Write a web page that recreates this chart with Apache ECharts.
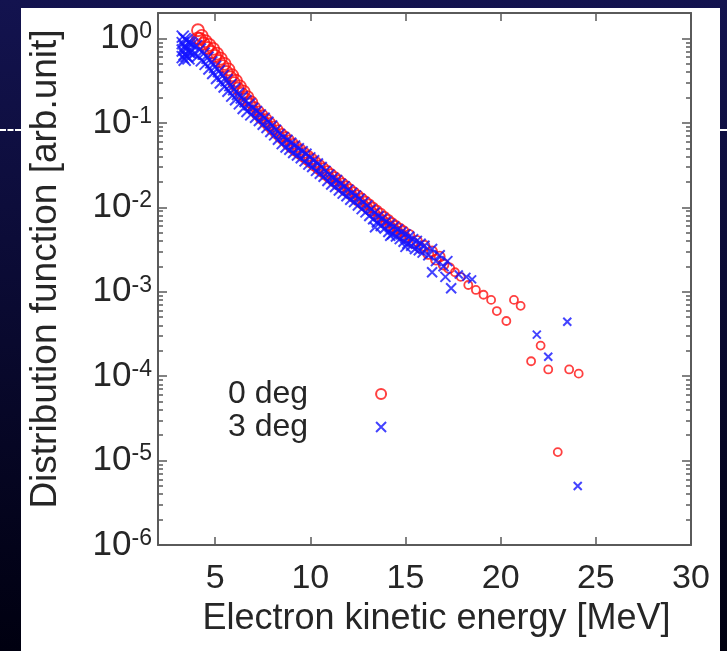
<!DOCTYPE html>
<html>
<head>
<meta charset="utf-8">
<script src="https://cdn.jsdelivr.net/npm/echarts@6/dist/echarts.min.js"></script>
<style>
html, body { margin: 0; padding: 0; width: 727px; height: 651px; overflow: hidden; background: linear-gradient(#13134f, #000010); }
#panel { position: absolute; left: 21px; top: 8px; width: 699px; height: 643px; background: #fff; }
.dash { position: absolute; top: 129px; height: 0; border-top: 2px dashed #fff; }
#chart { position: absolute; left: 0; top: 0; width: 727px; height: 651px; }
</style>
</head>
<body>
<div id="panel"></div>
<div class="dash" style="left:0;width:21px"></div>
<div class="dash" style="left:720px;width:7px"></div>
<div id="chart"></div>
<script>
// 0 deg (red circles)
var energy0 = [4.1, 4.1, 4.2, 4.3, 4.4, 4.5, 4.6, 4.7, 4.8, 4.9,
    5.0, 5.1, 5.2, 5.3, 5.4, 5.5, 5.6, 5.7, 5.8, 5.9,
    6.0, 6.1, 6.2, 6.3, 6.4, 6.5, 6.6, 6.7, 6.8, 6.9,
    7.0, 7.1, 7.2, 7.3, 7.4, 7.5, 7.6, 7.7, 7.8, 7.9,
    8.0, 8.1, 8.2, 8.3, 8.4, 8.5, 8.6, 8.7, 8.8, 8.9,
    9.0, 9.1, 9.2, 9.3, 9.4, 9.5, 9.6, 9.7, 9.8, 9.9,
    10.0, 10.1, 10.2, 10.3, 10.4, 10.5, 10.6, 10.7, 10.8, 10.9,
    11.0, 11.1, 11.2, 11.3, 11.4, 11.5, 11.6, 11.7, 11.8, 11.9,
    12.0, 12.1, 12.2, 12.3, 12.4, 12.5, 12.6, 12.7, 12.8, 12.9,
    13.0, 13.1, 13.2, 13.3, 13.4, 13.5, 13.6, 13.7, 13.8, 13.9,
    14.0, 14.1, 14.2, 14.3, 14.4, 14.5, 14.6, 14.7, 14.8, 14.9,
    15.0, 15.2, 15.4, 15.6, 15.8, 16.0, 16.2, 16.4, 16.6, 16.8,
    17.0, 17.3, 17.6, 17.9, 18.3, 18.7, 19.1, 19.5, 19.8, 20.3,
    20.7, 21.05, 21.6, 22.1, 22.5, 23.0, 23.6, 24.1];
var dist0 = [1.25, 1.0, 0.99, 1.07, 0.87, 0.93, 0.77, 0.84, 0.69, 0.75,
    0.62, 0.66, 0.54, 0.575, 0.47, 0.50, 0.40, 0.43, 0.345, 0.366,
    0.295, 0.315, 0.255, 0.27, 0.22, 0.234, 0.19, 0.202, 0.164, 0.175,
    0.141, 0.153, 0.126, 0.137, 0.113, 0.123, 0.102, 0.111, 0.092, 0.100,
    0.083, 0.091, 0.075, 0.082, 0.068, 0.074, 0.062, 0.068, 0.056, 0.062,
    0.051, 0.0565, 0.047, 0.052, 0.0435, 0.048, 0.040, 0.044, 0.037, 0.0405,
    0.034, 0.0373, 0.0312, 0.0343, 0.0287, 0.0316, 0.0264, 0.0291, 0.0243, 0.0268,
    0.0224, 0.0247, 0.0206, 0.0227, 0.019, 0.0209, 0.0175, 0.0192, 0.0161, 0.0177,
    0.0148, 0.0163, 0.0136, 0.015, 0.0125, 0.0138, 0.0115, 0.0127, 0.0106, 0.0117,
    0.0098, 0.0108, 0.009, 0.0099, 0.0083, 0.0091, 0.0076, 0.0084, 0.007, 0.0077,
    0.0065, 0.0071, 0.0059, 0.0065, 0.0055, 0.006, 0.0051, 0.0056, 0.0047, 0.0052,
    0.0044, 0.0047, 0.0038, 0.004, 0.0033, 0.0035, 0.0028, 0.003, 0.0024, 0.0026,
    0.0021, 0.0019, 0.0017, 0.0015, 0.0012, 0.00105, 0.00092, 0.0008, 0.00059, 0.00045,
    0.0008, 0.00068, 0.00015, 0.00023, 0.00012, 0.0000126, 0.00012, 0.000107];

// 3 deg (blue crosses)
var energy3 = [3.3, 3.3, 3.3, 3.3, 3.4, 3.4, 3.4, 3.4, 3.5, 3.5, 3.5, 3.6, 3.6, 3.6, 3.7, 3.7,
    3.8, 3.9, 4.0, 4.1, 4.2, 4.3, 4.4, 4.5, 4.6, 4.7, 4.8, 4.9,
    5.0, 5.1, 5.2, 5.3, 5.4, 5.5, 5.6, 5.7, 5.8, 5.9,
    6.0, 6.1, 6.2, 6.3, 6.4, 6.5, 6.6, 6.7, 6.8, 6.9,
    7.0, 7.1, 7.2, 7.3, 7.4, 7.5, 7.6, 7.7, 7.8, 7.9,
    8.0, 8.1, 8.2, 8.3, 8.4, 8.5, 8.6, 8.7, 8.8, 8.9,
    9.0, 9.1, 9.2, 9.3, 9.4, 9.5, 9.6, 9.7, 9.8, 9.9,
    10.0, 10.1, 10.2, 10.3, 10.4, 10.5, 10.6, 10.7, 10.8, 10.9,
    11.0, 11.1, 11.2, 11.3, 11.4, 11.5, 11.6, 11.7, 11.8, 11.9,
    12.0, 12.1, 12.2, 12.3, 12.4, 12.5, 12.6, 12.7, 12.8, 12.9,
    13.0, 13.1, 13.2, 13.3, 13.4, 13.5, 13.6, 13.7, 13.8, 13.9,
    14.0, 14.1, 14.2, 14.3, 14.4, 14.5, 14.6, 14.7, 14.8, 14.9,
    15.0, 15.1, 15.2, 15.3, 15.4, 15.5, 15.6, 15.7, 15.8, 15.9,
    16.0, 16.2, 16.4, 16.6, 16.8, 17.0, 17.2,
    13.4, 14.2, 15.0, 16.4, 17.1, 17.4, 17.8, 18.2, 18.5, 21.9, 22.5, 23.5, 24.05];
var dist3 = [1.05, 0.88, 0.72, 0.6, 0.98, 0.8, 0.65, 0.56, 0.95, 0.76, 0.62, 0.9, 0.7, 0.58, 0.88, 0.68,
    0.85, 0.66, 0.81, 0.62, 0.74, 0.55, 0.66, 0.50, 0.59, 0.44, 0.52, 0.39,
    0.46, 0.34, 0.41, 0.30, 0.36, 0.27, 0.32, 0.24, 0.28, 0.21,
    0.25, 0.19, 0.22, 0.17, 0.20, 0.15, 0.18, 0.138, 0.166, 0.126,
    0.151, 0.115, 0.138, 0.105, 0.126, 0.095, 0.115, 0.087, 0.103, 0.078,
    0.093, 0.071, 0.083, 0.063, 0.074, 0.056, 0.068, 0.051, 0.063, 0.048,
    0.058, 0.044, 0.054, 0.041, 0.050, 0.038, 0.046, 0.035, 0.043, 0.032,
    0.039, 0.030, 0.036, 0.027, 0.033, 0.025, 0.030, 0.023, 0.027, 0.0205,
    0.0245, 0.0186, 0.0224, 0.0174, 0.021, 0.0158, 0.019, 0.0145, 0.0178, 0.0135,
    0.0162, 0.0123, 0.0148, 0.0115, 0.0138, 0.0105, 0.0126, 0.0095, 0.0115, 0.0087,
    0.0105, 0.0079, 0.0095, 0.0072, 0.0087, 0.0066, 0.0079, 0.0060, 0.0074, 0.0056,
    0.0068, 0.0051, 0.0063, 0.0048, 0.0059, 0.0045, 0.0055, 0.0042, 0.0051, 0.0039,
    0.0048, 0.0037, 0.0045, 0.0035, 0.0042, 0.0032, 0.0040, 0.0031, 0.0037, 0.0029,
    0.0035, 0.0027, 0.0032, 0.0023, 0.0027, 0.0020, 0.0023,
    0.0058, 0.0046, 0.0034, 0.0017, 0.0015, 0.0011, 0.0016, 0.0015, 0.0014, 0.00031, 0.00017, 0.00044, 0.000005];

var xTicks = [5, 10, 15, 20, 25, 30];
var yTicks = [1e-6, 1e-5, 1e-4, 1e-3, 1e-2, 1e-1, 1];
var minorSteps = [2, 3, 4, 5, 6, 7, 8, 9];

var yMinor = [];
yTicks.slice(0, -1).forEach(function (d) {
    minorSteps.forEach(function (m) { yMinor.push(d * m); });
});

function pairs(xs, ys) {
    return xs.map(function (x, i) { return [x, ys[i]]; });
}

var font = 'Liberation Sans, Arial, sans-serif';
var lineColor = '#5a5a5a';
var textColor = '#262626';
var crossPath = 'path://M0,0L10,10M10,0L0,10';

// the dense band uses bigger marks than the sparse tail
function markSize(v) {
    if (v[0] < 7) return 12;
    return v[0] < 17.5 ? 10 : 8;
}

var chart = echarts.init(document.getElementById('chart'));

function xAxisOf(pos, showLabel) {
    return {
        type: 'value', position: pos, min: 2, max: 30,
        axisLine: { show: true, lineStyle: { color: lineColor, width: 2 } },
        axisTick: { show: true, inside: true, length: 8, customValues: xTicks, lineStyle: { color: lineColor, width: 1.5 } },
        axisLabel: { show: showLabel, customValues: xTicks, margin: 17, fontSize: 34, color: textColor, fontFamily: font },
        splitLine: { show: false }
    };
}

function yAxisOf(pos, showLabel, ticks, len, showLine) {
    return {
        type: 'log', logBase: 10, position: pos, min: 1e-6, max: 2,
        axisLine: { show: showLine, lineStyle: { color: lineColor, width: 2 } },
        axisTick: { show: true, inside: true, length: len, customValues: ticks, lineStyle: { color: lineColor, width: 1.5 } },
        axisLabel: {
            show: showLabel, customValues: yTicks, margin: 6, color: textColor, fontFamily: font,
            formatter: function (v) {
                return '{b|10}{s|' + Math.round(Math.log10(v)) + '}';
            },
            rich: {
                b: { fontSize: 35, fontFamily: font, color: textColor, lineHeight: 36 },
                s: { fontSize: 23, fontFamily: font, color: textColor, verticalAlign: 'top', lineHeight: 36 }
            }
        },
        splitLine: { show: false }
    };
}

var xAxes = [xAxisOf('bottom', true), xAxisOf('top', false)];
xAxes[0].name = 'Electron kinetic energy [MeV]';
xAxes[0].nameLocation = 'middle';
xAxes[0].nameGap = 52;
xAxes[0].nameTextStyle = { fontSize: 36, color: textColor, fontFamily: font, padding: [0, 0, 0, 24] };

var yAxes = [
    yAxisOf('left', true, yTicks, 9, true),
    yAxisOf('right', false, yTicks, 9, true),
    yAxisOf('left', false, yMinor, 5, false),
    yAxisOf('right', false, yMinor, 5, false)
];
yAxes[0].name = 'Distribution function [arb.unit]';
yAxes[0].nameLocation = 'middle';
yAxes[0].nameGap = 94;
yAxes[0].nameTextStyle = { fontSize: 37, color: textColor, fontFamily: font, padding: [0, 0, 0, 20] };

var option = {
    animation: false,
    grid: { left: 158, right: 36, top: 13, bottom: 106, containLabel: false },
    legend: {
        orient: 'vertical', left: 223, top: 373, align: 'right',
        itemWidth: 10, itemHeight: 10, itemGap: 1,
        textStyle: { fontSize: 32, color: textColor, fontFamily: font, lineHeight: 31, padding: [0, 63, 0, 0] },
        data: ['0 deg', '3 deg']
    },
    xAxis: xAxes,
    yAxis: yAxes,
    series: [{
        name: '0 deg', type: 'scatter', symbol: 'circle', symbolSize: markSize,
        itemStyle: { color: 'rgba(255,255,255,0)', borderColor: '#ff1010', borderWidth: 1.8 },
        data: pairs(energy0, dist0)
    }, {
        name: '3 deg', type: 'scatter', symbol: crossPath, symbolSize: markSize,
        itemStyle: { color: 'rgba(255,255,255,0)', borderColor: '#1414ff', borderWidth: 2 },
        data: pairs(energy3, dist3)
    }]
};

chart.setOption(option);
</script>
</body>
</html>
